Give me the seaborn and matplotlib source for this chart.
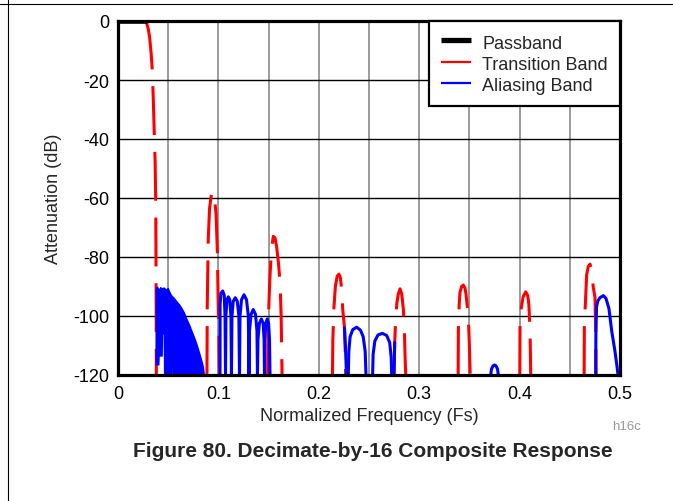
import numpy as np
import pandas as pd
import matplotlib
matplotlib.use("Agg")
import matplotlib.pyplot as plt
import seaborn as sns
from matplotlib.lines import Line2D

# ---- axis layout values -------------------------------------------------
x_ticks = [0.0, 0.05, 0.1, 0.15, 0.2, 0.25, 0.3, 0.35, 0.4, 0.45, 0.5]
x_tick_labels = ["0", "", "0.1", "", "0.2", "", "0.3", "", "0.4", "", "0.5"]
y_ticks = [0, -20, -40, -60, -80, -100, -120]
y_tick_labels = ["0", "-20", "-40", "-60", "-80", "-100", "-120"]

# ---- passband (0 dB) ----------------------------------------------------
passband_f = [0.0, 0.0280]
passband_db = [0.0, 0.0]

# ---- transition-band lobes (frequency in Fs, attenuation in dB) ---------
trans_f = [
    [0.0280, 0.0300, 0.0315, 0.0330, 0.0342, 0.0352, 0.0362, 0.0370, 0.0376, 0.0379, 0.0382],
    [0.0886, 0.0889, 0.0899, 0.0912, 0.0930, 0.0943, 0.0960, 0.0976, 0.0989, 0.0999, 0.1005, 0.1010],
    [0.1490, 0.1497, 0.1506, 0.1514, 0.1530, 0.1547, 0.1564, 0.1580, 0.1598, 0.1614, 0.1625, 0.1630, 0.1634],
    [0.2136, 0.2140, 0.2151, 0.2165, 0.2183, 0.2201, 0.2215, 0.2228, 0.2238, 0.2254, 0.2262, 0.2268],
    [0.2748, 0.2756, 0.2766, 0.2778, 0.2792, 0.2809, 0.2826, 0.2842, 0.2852, 0.2859, 0.2866],
    [0.3388, 0.3390, 0.3398, 0.3406, 0.3422, 0.3439, 0.3456, 0.3466, 0.3489, 0.3500, 0.3508],
    [0.4002, 0.4004, 0.4018, 0.4035, 0.4061, 0.4080, 0.4092, 0.4104, 0.4111],
    [0.4643, 0.4645, 0.4655, 0.4668, 0.4684, 0.4701, 0.4718, 0.4734, 0.4751, 0.4758, 0.4762],
]
trans_db = [
    [0, -2.5, -5.5, -11, -17, -27, -39, -48, -62, -85, -120],
    [-120, -96.5, -74, -63.5, -58.8, -57.8, -60, -65, -77.3, -97.6, -108, -120],
    [-120, -102, -93, -86.3, -77, -73, -73.5, -76.5, -82, -88.5, -100, -111, -120],
    [-120, -108, -97, -90, -86.5, -85.8, -87, -91, -97.6, -103.3, -110, -120],
    [-120, -108.9, -101, -95.5, -92.5, -90.8, -92.5, -97.6, -104, -113.4, -120],
    [-120, -105, -96.5, -92, -90, -89.5, -90.5, -92.5, -100, -110, -120],
    [-120, -103, -97, -93.5, -91.8, -93, -96, -105, -120],
    [-120, -103, -96, -86, -83.2, -82.4, -84.5, -90.3, -93.7, -105, -120],
]

# ---- aliasing band: dense region near the first null (outline) ----------
alias_dense_top_f = [0.0381, 0.0382, 0.0395, 0.0410, 0.0425, 0.0440, 0.0460, 0.0480,
                     0.0500, 0.0515, 0.0533, 0.0558, 0.0583, 0.0610, 0.0634, 0.0660,
                     0.0684, 0.0710, 0.0734, 0.0760, 0.0784, 0.0810, 0.0834, 0.0850, 0.0858]
alias_dense_top_db = [-116.5, -90.6, -90.4, -91.5, -90.5, -90.8, -90.6, -91.2,
                      -90.8, -92.0, -93.2, -94.0, -95.1, -96.2, -97.4, -99.0,
                      -101.1, -103.0, -105.1, -107.3, -109.6, -112.5, -115.3, -117.5, -120]
alias_dense_bot_f = [0.0381, 0.0405, 0.0408, 0.0438, 0.0442, 0.0462, 0.0466, 0.0538,
                     0.0541, 0.0553, 0.0556, 0.0636, 0.0639, 0.0648, 0.0651, 0.0858]
alias_dense_bot_db = [-116.5, -116.5, -113.5, -113.5, -106, -106, -120, -120,
                      -109, -109, -120, -120, -114, -114, -120, -120]

# ---- aliasing band lobes -------------------------------------------------
alias_f = [
    [0.1016, 0.1017, 0.1025, 0.1043, 0.1058, 0.1066, 0.1071,
     0.1075, 0.1085, 0.1099, 0.1113, 0.1125, 0.1130,
     0.1135, 0.1148, 0.1168, 0.1188, 0.1204, 0.1210,
     0.1215, 0.1230, 0.1255, 0.1280, 0.1298, 0.1305,
     0.1310, 0.1325, 0.1347, 0.1370, 0.1384, 0.1389,
     0.1394, 0.1408, 0.1428, 0.1446, 0.1455, 0.1459,
     0.1463, 0.1472, 0.1487, 0.1500, 0.1509, 0.1514],
    [0.2256, 0.2266, 0.2276],
    [0.2294, 0.2299, 0.2312, 0.2338, 0.2377, 0.2415, 0.2442, 0.2462, 0.2470],
    [0.2536, 0.2541, 0.2558, 0.2590, 0.2633, 0.2676, 0.2706, 0.2721, 0.2726],
    [0.2749, 0.2756],
    [0.3712, 0.3720, 0.3735, 0.3750, 0.3765, 0.3780, 0.3788],
    [0.4758, 0.4760, 0.4766, 0.4778, 0.4800, 0.4834, 0.4860, 0.4890, 0.4917, 0.4950, 0.4970, 0.4980],
]
alias_db = [
    [-120, -96, -92.3, -91.5, -93, -100, -120,
     -100, -94.5, -93.5, -94.5, -100, -120,
     -100, -95, -93.8, -95, -100, -120,
     -100, -94.5, -92.8, -94.5, -100, -120,
     -105, -99.5, -97.8, -99.5, -105, -120,
     -108, -102.5, -101, -102.5, -108, -120,
     -108, -102.5, -101, -102.5, -108, -120],
    [-104, -111, -120],
    [-120, -112, -107, -104.6, -103.8, -104.8, -107, -112, -120],
    [-120, -113, -108.5, -106.4, -105.9, -106.6, -109, -114, -120],
    [-120, -109],
    [-120, -118, -116.9, -116.6, -116.9, -118, -120],
    [-120, -106, -97, -95, -93.8, -93.1, -94, -97.5, -105, -112, -117, -120],
]


def lobes_frame(f_lists, db_lists):
    rows = []
    for seg, (fs, dbs) in enumerate(zip(f_lists, db_lists)):
        for order, (f, d) in enumerate(zip(fs, dbs)):
            rows.append({"seg": seg, "order": order, "freq": f, "atten": d})
    return pd.DataFrame(rows)


trans_df = lobes_frame(trans_f, trans_db)
alias_df = lobes_frame(alias_f, alias_db)
pass_df = pd.DataFrame({"freq": passband_f, "atten": passband_db})

# ---- styling -------------------------------------------------------------
sns.set_style("white")
plt.rcParams["font.family"] = ["Liberation Sans", "DejaVu Sans"]
plt.rcParams["axes.unicode_minus"] = False

RED = "#ff0000"
BLUE = "#0000ff"

fig = plt.figure(figsize=(6.73, 5.02), dpi=100)
ax = fig.add_axes([118 / 673, 1 - 376 / 502, 502 / 673, 354 / 502])

# grid
for xv in x_ticks[1:-1]:
    ax.axvline(xv, color="#808080", lw=1.1, zorder=1)
for yv in y_ticks[1:-1]:
    ax.axhline(yv, color="black", lw=1.0, zorder=1)

# aliasing band: dense region drawn as a filled outline
dense_x = alias_dense_top_f + alias_dense_bot_f[::-1]
dense_y = alias_dense_top_db + alias_dense_bot_db[::-1]
ax.fill(dense_x, dense_y, facecolor=BLUE, edgecolor=BLUE, lw=1.2, zorder=3)

# transition band (dashed red)
sns.lineplot(data=trans_df, x="freq", y="atten", units="seg", estimator=None,
             sort=False, color=RED, lw=2.2, linestyle=(0, (16, 5.5)),
             ax=ax, zorder=2, legend=False)

# aliasing band (solid blue)
sns.lineplot(data=alias_df, x="freq", y="atten", units="seg", estimator=None,
             sort=False, color=BLUE, lw=2.2, ax=ax, zorder=3, legend=False)

# passband (solid black)
sns.lineplot(data=pass_df, x="freq", y="atten", sort=False, color="black",
             lw=3.3, ax=ax, zorder=4, legend=False)

ax.set_xlim(0, 0.5)
ax.set_ylim(-120, 0)
ax.set_xticks(x_ticks)
ax.set_xticklabels(x_tick_labels)
ax.set_yticks(y_ticks)
ax.set_yticklabels(y_tick_labels)
ax.tick_params(axis="both", length=0, labelsize=13, colors="black")
ax.tick_params(axis="x", pad=7)
ax.tick_params(axis="y", pad=6)
ax.grid(False)

for sp in ax.spines.values():
    sp.set_visible(True)
    sp.set_color("black")
    sp.set_linewidth(2.3)
    sp.set_zorder(6)

ax.set_xlabel("Normalized Frequency (Fs)", fontsize=13, labelpad=3.5)
ax.set_ylabel("Attenuation (dB)", fontsize=13, labelpad=8)

handles = [
    Line2D([], [], color="black", lw=3.8, solid_capstyle="butt"),
    Line2D([], [], color=RED, lw=1.6, solid_capstyle="butt"),
    Line2D([], [], color=BLUE, lw=1.6, solid_capstyle="butt"),
]
leg = ax.legend(handles, ["Passband", "Transition Band", "Aliasing Band"],
                loc="upper right", bbox_to_anchor=(1.0, 1.0), borderaxespad=0.0,
                fontsize=13, frameon=True, fancybox=False, framealpha=1.0,
                edgecolor="black", borderpad=0.66, handlelength=1.7,
                handleheight=1.15, handletextpad=0.62, labelspacing=0.12)
leg.get_frame().set_linewidth(1.6)
leg.set_zorder(7)

# page frame lines
fig.add_artist(Line2D([0, 1], [1 - 5 / 502, 1 - 5 / 502], transform=fig.transFigure,
                      color="black", lw=0.8))
fig.add_artist(Line2D([7.5 / 673, 7.5 / 673], [0, 1], transform=fig.transFigure,
                      color="black", lw=0.8))

fig.text(627 / 673, 1 - 427 / 502, "h16c", fontsize=9.5, color="#999999",
         ha="center", va="center")
fig.text(373 / 673, 1 - 452 / 502, "Figure 80. Decimate-by-16 Composite Response",
         fontsize=15, fontweight="bold", ha="center", va="center")

fig.savefig("out.png", dpi=100)
